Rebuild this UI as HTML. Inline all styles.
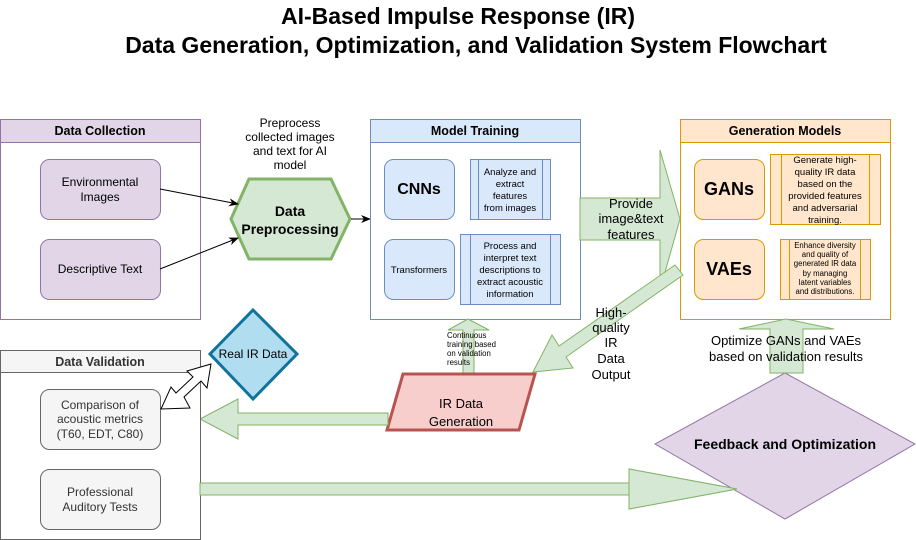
<!DOCTYPE html>
<html><head><meta charset="utf-8"><style>
html,body{margin:0;padding:0;background:#fff;}
svg{display:block;font-family:"Liberation Sans",Arial,sans-serif;}
</style></head><body>
<svg width="916" height="540" viewBox="0 0 916 540" xmlns="http://www.w3.org/2000/svg">
<defs>
<marker id="ah" markerWidth="10" markerHeight="8" refX="9" refY="4" orient="auto" markerUnits="userSpaceOnUse"><path d="M0,0 L10,4 L0,8 L3,4 Z" fill="#000"/></marker>
</defs>
<text x="458" y="24" font-size="23" font-weight="bold" text-anchor="middle">AI-Based Impulse Response (IR)</text>
<text x="476" y="53" font-size="23" font-weight="bold" text-anchor="middle">Data Generation, Optimization, and Validation System Flowchart</text>

<!-- Data Collection -->
<rect x="0.5" y="119.5" width="200" height="200" fill="#fff" stroke="#9673a6"/>
<rect x="0.5" y="119.5" width="200" height="23" fill="#e1d5e7" stroke="#9673a6"/>
<text x="100" y="135" font-size="12.5" font-weight="bold" text-anchor="middle">Data Collection</text>
<rect x="40.5" y="159.5" width="120" height="60" rx="9" fill="#e1d5e7" stroke="#9673a6"/>
<text x="100" y="186" font-size="12" text-anchor="middle">Environmental</text>
<text x="100" y="201" font-size="12" text-anchor="middle">Images</text>
<rect x="40.5" y="239.5" width="120" height="60" rx="9" fill="#e1d5e7" stroke="#9673a6"/>
<text x="100" y="273" font-size="12" text-anchor="middle">Descriptive Text</text>

<!-- Preprocessing -->
<text font-size="12" text-anchor="middle"><tspan x="290" y="127">Preprocess</tspan><tspan x="290" y="141">collected images</tspan><tspan x="290" y="155">and text for AI</tspan><tspan x="290" y="169">model</tspan></text>
<polygon points="231,219 249,179 331,179 350,219 331,259 249,259" fill="#d5e8d4" stroke="#82b366" stroke-width="3"/>
<text x="290" y="216" font-size="14" font-weight="bold" text-anchor="middle">Data</text>
<text x="290" y="234" font-size="14" font-weight="bold" text-anchor="middle">Preprocessing</text>
<line x1="160" y1="189" x2="238" y2="204" stroke="#000" marker-end="url(#ah)"/>
<line x1="160" y1="269" x2="238" y2="238" stroke="#000" marker-end="url(#ah)"/>
<line x1="351" y1="219" x2="370" y2="219" stroke="#000" marker-end="url(#ah)"/>

<!-- Model Training -->
<rect x="370.5" y="119.5" width="210" height="200" fill="#fff" stroke="#6c8ebf"/>
<rect x="370.5" y="119.5" width="210" height="23" fill="#dae8fc" stroke="#6c8ebf"/>
<text x="475" y="135" font-size="12.5" font-weight="bold" text-anchor="middle">Model Training</text>
<rect x="384.5" y="159.5" width="70" height="60" rx="9" fill="#dae8fc" stroke="#6c8ebf"/>
<text x="419" y="194" font-size="16" font-weight="bold" text-anchor="middle">CNNs</text>
<rect x="470.5" y="159.5" width="80" height="60" fill="#dae8fc" stroke="#6c8ebf"/>
<line x1="478.5" y1="159.5" x2="478.5" y2="219.5" stroke="#6c8ebf"/><line x1="542.5" y1="159.5" x2="542.5" y2="219.5" stroke="#6c8ebf"/>
<text font-size="9.5" text-anchor="middle"><tspan x="510" y="175">Analyze and</tspan><tspan x="510" y="187">extract</tspan><tspan x="510" y="199">features</tspan><tspan x="510" y="211">from images</tspan></text>
<rect x="384.5" y="239.5" width="70" height="60" rx="9" fill="#dae8fc" stroke="#6c8ebf"/>
<text x="419" y="273" font-size="9.5" text-anchor="middle">Transformers</text>
<rect x="460.5" y="234.5" width="100" height="70" fill="#dae8fc" stroke="#6c8ebf"/>
<line x1="470.5" y1="234.5" x2="470.5" y2="304.5" stroke="#6c8ebf"/><line x1="550.5" y1="234.5" x2="550.5" y2="304.5" stroke="#6c8ebf"/>
<text font-size="9.5" text-anchor="middle"><tspan x="510" y="249">Process and</tspan><tspan x="510" y="261">interpret text</tspan><tspan x="510" y="273">descriptions to</tspan><tspan x="510" y="285">extract acoustic</tspan><tspan x="510" y="297">information</tspan></text>

<!-- Generation Models -->
<rect x="680.5" y="119.5" width="210" height="200" fill="#fff" stroke="#d79b00"/>
<rect x="680.5" y="119.5" width="210" height="23" fill="#ffe6cc" stroke="#d79b00"/>
<text x="785" y="135" font-size="12.5" font-weight="bold" text-anchor="middle">Generation Models</text>
<rect x="694.5" y="159.5" width="70" height="60" rx="9" fill="#ffe6cc" stroke="#d79b00"/>
<text x="729" y="195" font-size="18" font-weight="bold" text-anchor="middle">GANs</text>
<rect x="770.5" y="154.5" width="110" height="70" fill="#ffe6cc" stroke="#d79b00"/>
<line x1="781.5" y1="154.5" x2="781.5" y2="224.5" stroke="#d79b00"/><line x1="869.5" y1="154.5" x2="869.5" y2="224.5" stroke="#d79b00"/>
<text font-size="9.5" text-anchor="middle"><tspan x="825" y="163">Generate high-</tspan><tspan x="825" y="175">quality IR data</tspan><tspan x="825" y="187">based on the</tspan><tspan x="825" y="199">provided features</tspan><tspan x="825" y="211">and adversarial</tspan><tspan x="825" y="223">training.</tspan></text>
<rect x="694.5" y="239.5" width="70" height="60" rx="9" fill="#ffe6cc" stroke="#d79b00"/>
<text x="729" y="275" font-size="18" font-weight="bold" text-anchor="middle">VAEs</text>
<rect x="780.5" y="239.5" width="90" height="60" fill="#ffe6cc" stroke="#d79b00"/>
<line x1="789.5" y1="239.5" x2="789.5" y2="299.5" stroke="#d79b00"/><line x1="860.5" y1="239.5" x2="860.5" y2="299.5" stroke="#d79b00"/>
<text font-size="7.8" text-anchor="middle"><tspan x="825" y="248">Enhance diversity</tspan><tspan x="825" y="257">and quality of</tspan><tspan x="825" y="266">generated IR data</tspan><tspan x="825" y="276">by managing</tspan><tspan x="825" y="285">latent variables</tspan><tspan x="825" y="294">and distributions.</tspan></text>

<!-- Provide arrow -->
<polygon points="580,198 660,198 660,150 680,219 660,290 660,240 580,240" fill="#d5e8d4" stroke="#82b366"/>
<text font-size="13" text-anchor="middle"><tspan x="631" y="208">Provide</tspan><tspan x="631" y="223">image&amp;text</tspan><tspan x="631" y="239">features</tspan></text>

<!-- diagonal arrow -->
<polygon points="675,265 559,346 552,335 533,372 573,368 566,357 683,275" fill="#d5e8d4" stroke="#82b366"/>
<text font-size="13" text-anchor="middle"><tspan x="611" y="317">High-</tspan><tspan x="611" y="332">quality</tspan><tspan x="611" y="347">IR</tspan><tspan x="611" y="363">Data</tspan><tspan x="611" y="379">Output</tspan></text>

<!-- continuous training arrow -->
<polygon points="463,374 463,330 448,330 468,319 489,330 474,330 474,374" fill="#d5e8d4" stroke="#82b366"/>
<text font-size="7.8"><tspan x="447" y="338">Continuous</tspan><tspan x="447" y="347">training based</tspan><tspan x="447" y="356">on validation</tspan><tspan x="447" y="365">results</tspan></text>

<!-- IR Data Generation -->
<polygon points="403,374 535,374 519,430 387,430" fill="#f8cecc" stroke="#b85450" stroke-width="3"/>
<text x="461" y="408" font-size="13" text-anchor="middle">IR Data</text>
<text x="461" y="426" font-size="13" text-anchor="middle">Generation</text>

<!-- Left arrow -->
<polygon points="388,413 238,413 238,399 200,419 238,439 238,425 388,425" fill="#d5e8d4" stroke="#82b366"/>

<!-- Data Validation -->
<rect x="0.5" y="350.5" width="200" height="189" fill="#fff" stroke="#666"/>
<rect x="0.5" y="350.5" width="200" height="22" fill="#f5f5f5" stroke="#666"/>
<text x="100" y="366" font-size="12.5" font-weight="bold" fill="#333" text-anchor="middle">Data Validation</text>
<rect x="40.5" y="389.5" width="120" height="60" rx="9" fill="#f5f5f5" stroke="#666"/>
<text font-size="12" fill="#333" text-anchor="middle"><tspan x="100" y="409">Comparison of</tspan><tspan x="100" y="423">acoustic metrics</tspan><tspan x="100" y="438">(T60, EDT, C80)</tspan></text>
<rect x="40.5" y="469.5" width="120" height="60" rx="9" fill="#f5f5f5" stroke="#666"/>
<text font-size="12" fill="#333" text-anchor="middle"><tspan x="100" y="496">Professional</tspan><tspan x="100" y="511">Auditory Tests</tspan></text>

<!-- Real IR Data -->
<polygon points="253,310 297,354 253,399 210,354" fill="#b1ddf0" stroke="#10739e" stroke-width="3"/>
<text x="253" y="358" font-size="12" text-anchor="middle">Real IR Data</text>
<!-- double arrow -->
<polygon points="161,409 171,387 176,393 193,377 187,371 211,364 207,388 201,381 184,397 190,408" fill="#fff" stroke="#000"/>

<!-- Bottom arrow -->
<polygon points="200,483 629,483 629,469 737,489 629,509 629,495 200,495" fill="#d5e8d4" stroke="#82b366"/>

<!-- Feedback diamond -->
<polygon points="785,373 915,444 785,519 655,444" fill="#e1d5e7" stroke="#9673a6"/>
<polygon points="629,469 737,489 629,509" fill="#d5e8d4" stroke="#82b366"/>
<text x="785" y="449" font-size="14" font-weight="bold" text-anchor="middle">Feedback and Optimization</text>

<!-- Optimize arrow -->
<polygon points="770,373 770,329 739,329 786,319 834,329 803,329 803,373" fill="#d5e8d4" stroke="#82b366"/>
<text font-size="13" text-anchor="middle"><tspan x="786" y="345">Optimize GANs and VAEs</tspan><tspan x="786" y="361">based on validation results</tspan></text>
</svg>
</body></html>
